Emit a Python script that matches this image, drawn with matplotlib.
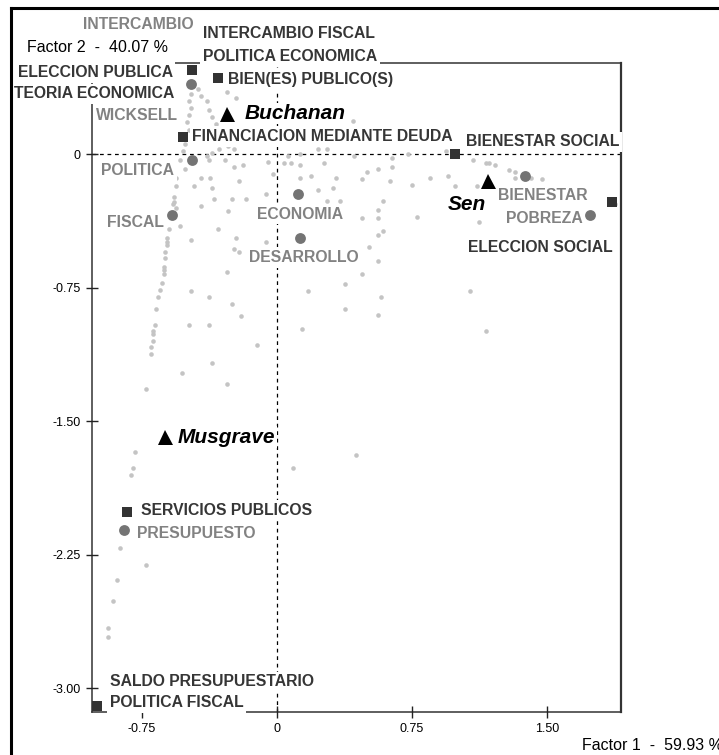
import matplotlib
matplotlib.use('Agg')
import matplotlib.pyplot as plt
from matplotlib.lines import Line2D

plt.rcParams['font.family'] = ['Liberation Sans', 'DejaVu Sans']

# keyword markers (factor 1, factor 2)
sq_x = [-0.47, -0.33, -0.52, 0.99, 1.86, -0.835, -1.00]
sq_y = [0.475, 0.43, 0.10, 0.00, -0.27, -2.01, -3.10]

circ_x = [-0.48, -0.47, -0.585, 0.115, 0.13, 1.38, 1.74, -0.85]
circ_y = [0.395, -0.03, -0.34, -0.22, -0.47, -0.12, -0.34, -2.11]

authors = ['Buchanan', 'Sen', 'Musgrave']
auth_x = [-0.28, 1.17, -0.62]
auth_y = [0.23, -0.15, -1.59]

# small unlabeled points
dots_x = [-0.44, -0.42, -0.39, -0.38, -0.36, -0.34, -0.32, -0.30, -0.27, -0.48,
          -0.49, -0.48, -0.49, -0.50, -0.49, -0.51, -0.52, -0.28, -0.23, -0.39,
          -0.36, -0.32, -0.24, -0.29, 0.06, 0.13, 0.23, 0.28, 0.43, 0.42,
          -0.54, -0.51, -0.56, -0.56, -0.38, -0.24, -0.19, -0.05, 0.04, 0.08,
          0.13, 0.26, -0.42, -0.37, -0.46, -0.36, -0.21, -0.02, 0.13, 0.19,
          0.33, -0.57, -0.57, -0.58, -0.56, -0.42, -0.35, -0.25, -0.17, -0.06,
          0.23, 0.31, -0.27, -0.54, -0.60, -0.33, -0.48, -0.61, -0.61, -0.61,
          -0.23, -0.06, -0.24, -0.21, -0.62, -0.62, -0.63, -0.63, -0.63, -0.28,
          0.38, -0.64, -0.65, -0.66, -0.67, -0.48, -0.38, -0.25, -0.20, 0.17,
          0.38, -0.68, -0.69, -0.69, -0.69, -0.70, -0.70, -0.49, -0.38, 0.14,
          -0.11, -0.36, -0.53, -0.28, -0.73, 0.56, -0.79, -0.80, -0.81, 0.09,
          0.44, -0.87, -0.73, -0.89, -0.91, -0.94, -0.94, 0.64, 0.73, 0.64,
          0.56, 0.50, 0.47, 0.63, 0.75, 0.85, 0.95, 1.09, 1.16, 1.18,
          1.21, 1.29, 1.32, 1.32, 1.41, 1.47, 1.88, 0.99, 1.11, 0.59,
          0.56, 0.56, 0.47, 0.78, 1.12, 0.59, 0.56, 0.51, 0.56, 0.47,
          1.07, 0.58, 1.16, 0.94, 0.28, 0.35]
dots_y = [0.37, 0.33, 0.30, 0.25, 0.21, 0.17, 0.13, 0.09, 0.05, 0.34,
          0.30, 0.26, 0.22, 0.18, 0.14, 0.06, 0.02, 0.35, 0.32, -0.01,
          0.01, 0.03, 0.03, -0.03, -0.01, 0.00, 0.03, 0.03, -0.01, 0.19,
          -0.03, -0.08, -0.13, -0.18, -0.03, -0.07, -0.06, -0.04, -0.05, -0.05,
          -0.06, -0.05, -0.13, -0.13, -0.18, -0.19, -0.15, -0.11, -0.13, -0.12,
          -0.13, -0.24, -0.27, -0.28, -0.30, -0.29, -0.25, -0.25, -0.25, -0.22,
          -0.20, -0.19, -0.32, -0.40, -0.42, -0.42, -0.48, -0.47, -0.49, -0.51,
          -0.47, -0.49, -0.53, -0.55, -0.55, -0.58, -0.63, -0.65, -0.67, -0.66,
          -0.73, -0.72, -0.76, -0.80, -0.87, -0.77, -0.80, -0.84, -0.91, -0.77,
          -0.87, -0.96, -0.99, -1.01, -1.05, -1.08, -1.12, -0.96, -0.96, -0.98,
          -1.07, -1.17, -1.23, -1.29, -1.32, -0.90, -1.67, -1.76, -1.80, -1.76,
          -1.69, -2.21, -2.31, -2.39, -2.51, -2.66, -2.71, -0.02, 0.00, -0.07,
          -0.08, -0.10, -0.14, -0.15, -0.17, -0.13, -0.12, -0.03, -0.05, -0.05,
          -0.06, -0.09, -0.10, -0.13, -0.13, -0.14, -0.28, -0.18, -0.18, -0.26,
          -0.31, -0.36, -0.36, -0.35, -0.38, -0.43, -0.45, -0.52, -0.60, -0.67,
          -0.77, -0.80, -0.99, 0.02, -0.26, -0.26]

# labels: text, x, y, horizontal alignment
dark_labels = [('INTERCAMBIO FISCAL', -0.41, 0.68, 'left'),
               ('POLITICA ECONOMICA', -0.41, 0.55, 'left'),
               ('ELECCION PUBLICA', -0.58, 0.46, 'right'),
               ('TEORIA ECONOMICA', -0.57, 0.34, 'right'),
               ('BIEN(ES) PUBLICO(S)', -0.27, 0.42, 'left'),
               ('FINANCIACION MEDIANTE DEUDA', -0.47, 0.10, 'left'),
               ('BIENESTAR SOCIAL', 1.05, 0.07, 'left'),
               ('ELECCION SOCIAL', 1.06, -0.525, 'left'),
               ('SERVICIOS PUBLICOS', -0.755, -2.00, 'left'),
               ('SALDO PRESUPUESTARIO', -0.93, -2.965, 'left'),
               ('POLITICA FISCAL', -0.93, -3.08, 'left')]
gray_labels = [('INTERCAMBIO', -1.08, 0.73, 'left'),
               ('WICKSELL', -0.55, 0.22, 'right'),
               ('POLITICA', -0.57, -0.09, 'right'),
               ('FISCAL', -0.63, -0.385, 'right'),
               ('ECONOMIA', 0.13, -0.335, 'center'),
               ('DESARROLLO', 0.15, -0.58, 'center'),
               ('BIENESTAR', 1.23, -0.23, 'left'),
               ('POBREZA', 1.27, -0.36, 'left'),
               ('PRESUPUESTO', -0.78, -2.13, 'left')]
auth_lab = [(-0.18, 0.23, 'left'), (1.16, -0.28, 'right'), (-0.55, -1.59, 'left')]

xticks = [-0.75, 0, 0.75, 1.5]
xtick_labels = ['-0.75', '0', '0.75', '1.50']
yticks = [0, -0.75, -1.5, -2.25, -3.0]
ytick_labels = ['0', '-0.75', '-1.50', '-2.25', '-3.00']

DARK = '#363636'
GRAY = '#828282'

fig = plt.figure(figsize=(7.19, 7.55), dpi=100)
ax = fig.add_axes([92/719, 1-712/755, 529/719, 649/755])
ax.set_xlim(-1.028, 1.911)
ax.set_ylim(-3.134, 0.514)

ax.axhline(0, color='black', lw=0.9, dashes=(3, 3), zorder=1)
ax.axvline(0, color='black', lw=0.9, dashes=(3, 3), zorder=1)

ax.plot(dots_x, dots_y, 'o', color='#c4c4c4', ms=3.3, mew=0, zorder=2)
ax.plot(circ_x, circ_y, 'o', color='#747474', ms=7.8, mew=0, zorder=9)
ax.plot(sq_x, sq_y, 's', color='#333333', ms=7.9, mew=0, zorder=9)
ax.plot(auth_x, auth_y, '^', color='black', ms=10.8, mew=0, zorder=9)

box = dict(fc='white', ec='none', pad=2)
for t, x, y, ha in dark_labels:
    ax.text(x, y, t, ha=ha, va='center', fontsize=11.3, fontweight='bold',
            color=DARK, bbox=box, zorder=8)
for t, x, y, ha in gray_labels:
    ax.text(x, y, t, ha=ha, va='center', fontsize=11.3, fontweight='bold',
            color=GRAY, bbox=box, zorder=8)
for name, (x, y, ha) in zip(authors, auth_lab):
    ax.text(x, y, name, ha=ha, va='center', fontsize=15, fontweight='bold',
            fontstyle='italic', color='black', bbox=dict(fc='white', ec='none', pad=1),
            zorder=8)

for side, s in ax.spines.items():
    s.set_color('#333333')
    s.set_linewidth(1.6 if side == 'right' else 1.1)
    s.set_zorder(1.5)
ax.set_xticks(xticks)
ax.set_xticklabels(xtick_labels)
ax.set_yticks(yticks)
ax.set_yticklabels(ytick_labels)
ax.tick_params(direction='inout', length=8, width=1, color='#222222',
               labelsize=9, pad=4)

fig.text(27/719, 1-47/755, 'Factor 2  -  40.07 %', fontsize=11.5, va='center')
fig.text(582/719, 1-746/755, 'Factor 1  -  59.93 %', fontsize=11.5, va='center')

# outer frame of the page
fig.add_artist(Line2D([10.5/719, 10.5/719], [0, 1-7.5/755], color='black', lw=2.2,
                      transform=fig.transFigure))
fig.add_artist(Line2D([10.5/719, 1], [1-7.5/755, 1-7.5/755], color='black', lw=2.2,
                      transform=fig.transFigure))

fig.savefig('out.png', dpi=100)
